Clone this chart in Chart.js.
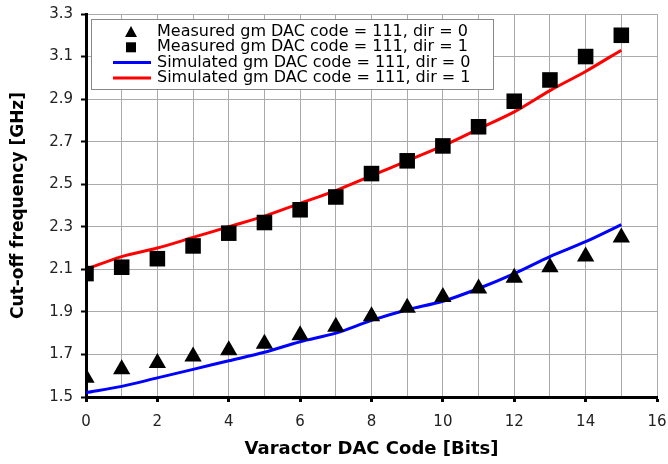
<!DOCTYPE html>
<html>
<head>
<meta charset="utf-8">
<script src="https://cdn.jsdelivr.net/npm/chart.js@4"></script>
<style>
  html, body { margin: 0; padding: 0; background: #fff; }
  #wrap { width: 668px; height: 464px; }
</style>
</head>
<body>
<div id="wrap"><canvas id="cutoffChart" width="668" height="464"></canvas></div>
<script>
// DAC codes on the x axis
const codes = [0, 1, 2, 3, 4, 5, 6, 7, 8, 9, 10, 11, 12, 13, 14, 15];

// measured points
const measDir0 = [1.59, 1.63, 1.66, 1.69, 1.72, 1.75, 1.79, 1.83, 1.88, 1.92, 1.97, 2.01, 2.06, 2.11, 2.16, 2.25];
const measDir1 = [2.08, 2.11, 2.15, 2.21, 2.27, 2.32, 2.38, 2.44, 2.55, 2.61, 2.68, 2.77, 2.89, 2.99, 3.10, 3.20];

// simulated curves
const simDir0 = [1.52, 1.55, 1.59, 1.63, 1.67, 1.71, 1.76, 1.80, 1.86, 1.91, 1.95, 2.01, 2.08, 2.16, 2.23, 2.31];
const simDir1 = [2.10, 2.16, 2.20, 2.25, 2.30, 2.35, 2.41, 2.47, 2.54, 2.61, 2.68, 2.76, 2.84, 2.94, 3.03, 3.13];

const seriesLabels = [
  'Measured gm DAC code = 111, dir = 0',
  'Measured gm DAC code = 111, dir = 1',
  'Simulated gm DAC code = 111, dir = 0',
  'Simulated gm DAC code = 111, dir = 1'
];

const yTicks = [1.5, 1.7, 1.9, 2.1, 2.3, 2.5, 2.7, 2.9, 3.1, 3.3];

const FONT = '"DejaVu Sans", Arial, sans-serif';

function pairs(ys) {
  return codes.map((c, i) => ({ x: c, y: ys[i] }));
}

// legend drawn inside the plot, like the original
const boxLegend = {
  id: 'boxLegend',
  afterDraw(chart) {
    const ctx = chart.ctx;
    const a = chart.chartArea;
    const x0 = a.left + 5, y0 = a.top + 5;
    const w = 402, h = 70;
    ctx.save();
    ctx.fillStyle = '#fff';
    ctx.fillRect(x0, y0, w, h);
    ctx.strokeStyle = '#888';
    ctx.lineWidth = 1;
    ctx.strokeRect(x0 + 0.5, y0 + 0.5, w, h);
    ctx.font = '16px ' + FONT;
    ctx.textBaseline = 'middle';
    chart.data.datasets.forEach((ds, i) => {
      const cy = y0 + 13 + i * 15.3;
      const mx = x0 + 40;
      ctx.fillStyle = '#000';
      if (ds.pointStyle === 'triangle') {
        ctx.beginPath();
        ctx.moveTo(mx, cy - 6);
        ctx.lineTo(mx + 6, cy + 5);
        ctx.lineTo(mx - 6, cy + 5);
        ctx.closePath();
        ctx.fill();
      } else if (ds.pointStyle === 'rect') {
        ctx.fillRect(mx - 5, cy - 5, 10, 10);
      } else {
        ctx.strokeStyle = ds.borderColor;
        ctx.lineWidth = 3;
        ctx.beginPath();
        ctx.moveTo(mx - 18, cy);
        ctx.lineTo(mx + 20, cy);
        ctx.stroke();
      }
      ctx.fillStyle = '#000';
      ctx.fillText(ds.label, x0 + 66, cy);
    });
    ctx.restore();
  }
};

const ctx = document.getElementById('cutoffChart').getContext('2d');
new Chart(ctx, {
  type: 'scatter',
  data: {
    datasets: [
      {
        label: seriesLabels[0],
        data: pairs(measDir0),
        showLine: false,
        pointStyle: 'triangle',
        pointRadius: 10,
        backgroundColor: '#000',
        borderColor: '#000',
        borderWidth: 0,
        order: 0
      },
      {
        label: seriesLabels[1],
        data: pairs(measDir1),
        showLine: false,
        pointStyle: 'rect',
        pointRadius: 11,
        backgroundColor: '#000',
        borderColor: '#000',
        borderWidth: 0,
        order: 1
      },
      {
        label: seriesLabels[2],
        data: pairs(simDir0),
        showLine: true,
        pointRadius: 0,
        borderColor: '#0000ff',
        borderWidth: 3,
        tension: 0.3,
        order: 2
      },
      {
        label: seriesLabels[3],
        data: pairs(simDir1),
        showLine: true,
        pointRadius: 0,
        borderColor: '#ff0000',
        borderWidth: 3,
        tension: 0.3,
        order: 3
      }
    ]
  },
  options: {
    responsive: false,
    animation: false,
    layout: { padding: { left: 2, top: 14, right: 11, bottom: 0 } },
    plugins: {
      legend: { display: false },
      tooltip: { enabled: false }
    },
    scales: {
      x: {
        type: 'linear',
        min: 0,
        max: 16,
        afterFit(scale) {
          scale.height = 67;
          scale.paddingLeft = 0;
          scale.paddingRight = 0;
        },
        ticks: {
          stepSize: 1,
          padding: 11,
          color: '#222',
          font: { family: FONT, size: 15 },
          callback: v => (v % 2 === 0 ? String(v) : '')
        },
        grid: {
          color: '#aaa',
          lineWidth: 1,
          tickLength: 5,
          tickColor: c => (c.tick && c.tick.value % 2 === 0 ? '#000' : 'rgba(0,0,0,0)'),
          tickWidth: 3
        },
        border: { color: '#000', width: 3 },
        title: {
          display: true,
          text: 'Varactor DAC Code [Bits]',
          color: '#000',
          font: { family: FONT, size: 18, weight: 'bold' },
          padding: { top: 4 }
        }
      },
      y: {
        type: 'linear',
        min: 1.5,
        max: 3.3,
        afterFit(scale) {
          scale.width = 84;
          scale.paddingTop = 0;
          scale.paddingBottom = 0;
        },
        afterBuildTicks(scale) { scale.ticks = yTicks.map(v => ({ value: v })); },
        ticks: {
          padding: 8,
          color: '#222',
          font: { family: FONT, size: 15 },
          callback: v => v.toFixed(1)
        },
        grid: {
          color: '#aaa',
          lineWidth: 1,
          tickLength: 5,
          tickColor: '#000',
          tickWidth: 2
        },
        border: { color: '#000', width: 3 },
        title: {
          display: true,
          text: 'Cut-off frequency [GHz]',
          color: '#000',
          font: { family: FONT, size: 17, weight: 'bold' },
          padding: { top: 6, bottom: 4 }
        }
      }
    }
  },
  plugins: [boxLegend]
});
</script>
</body>
</html>
